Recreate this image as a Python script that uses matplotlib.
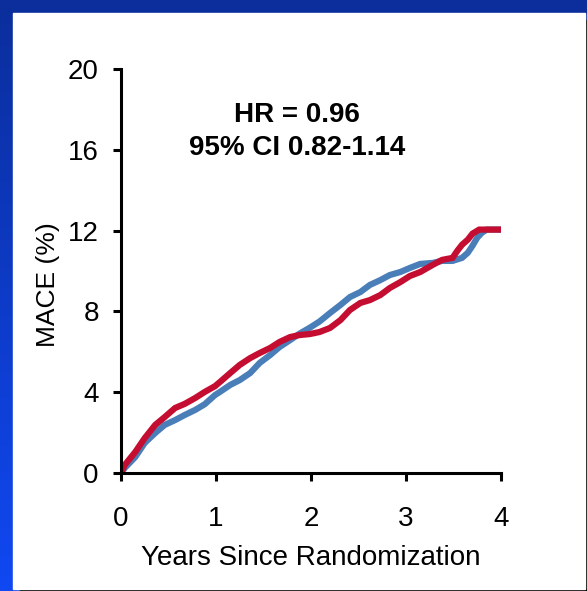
import numpy as np
import matplotlib.pyplot as plt
from matplotlib.patches import Rectangle

plt.rcParams['font.family'] = ['Liberation Sans', 'DejaVu Sans']

# Cumulative MACE (%)
blue_t = [0.00, 0.04, 0.15, 0.25, 0.36, 0.46, 0.57, 0.67, 0.78, 0.88, 0.99, 1.04, 1.15,
          1.25, 1.36, 1.46, 1.57, 1.67, 1.78, 1.88, 1.99, 2.09, 2.20, 2.31, 2.41, 2.52,
          2.62, 2.73, 2.83, 2.94, 3.04, 3.15, 3.28, 3.38, 3.49, 3.59, 3.65, 3.70, 3.75,
          3.80, 3.85, 4.00]
blue_y = [0.00, 0.25, 0.79, 1.49, 1.98, 2.38, 2.62, 2.87, 3.12, 3.40, 3.86, 4.01, 4.36,
          4.60, 4.95, 5.45, 5.84, 6.24, 6.58, 6.90, 7.20, 7.50, 7.92, 8.32, 8.71, 8.96,
          9.31, 9.55, 9.80, 9.95, 10.15, 10.35, 10.40, 10.50, 10.50, 10.65, 10.90, 11.25,
          11.65, 11.90, 12.05, 12.05]

red_t = [0.00, 0.04, 0.15, 0.25, 0.36, 0.46, 0.57, 0.67, 0.78, 0.88, 0.99, 1.04, 1.15,
         1.25, 1.36, 1.46, 1.57, 1.67, 1.78, 1.88, 1.99, 2.09, 2.20, 2.31, 2.41, 2.52,
         2.62, 2.73, 2.83, 2.94, 3.04, 3.15, 3.28, 3.38, 3.49, 3.54, 3.59, 3.65, 3.70,
         3.77, 4.00]
red_y = [0.00, 0.40, 1.04, 1.73, 2.38, 2.77, 3.22, 3.42, 3.71, 4.01, 4.30, 4.50, 4.95,
         5.35, 5.69, 5.94, 6.19, 6.49, 6.73, 6.83, 6.88, 6.98, 7.18, 7.57, 8.07, 8.42,
         8.56, 8.81, 9.16, 9.45, 9.75, 9.95, 10.30, 10.55, 10.65, 11.00, 11.30, 11.55,
         11.85, 12.05, 12.05]

xticks = [0, 1, 2, 3, 4]
yticks = [0, 4, 8, 12, 16, 20]

W, H = 587, 591
fig = plt.figure(figsize=(W / 100, H / 100), dpi=100)

# blue gradient background
bg = fig.add_axes([0, 0, 1, 1], zorder=-10)
bg.set_axis_off()
grad = np.linspace(0, 1, 256).reshape(-1, 1)
top = np.array([0x0B, 0x2E, 0x9C]) / 255
bot = np.array([0x10, 0x48, 0xF2]) / 255
img = top + (bot - top) * grad[:, :, None]
bg.imshow(img, aspect='auto', extent=[0, 1, 0, 1], origin='upper')
bg.set_xlim(0, 1)
bg.set_ylim(0, 1)
# shadow lines + white panel
bg.add_patch(Rectangle((20 / W, 0), (W - 20) / W, 3 / H, color='black'))
bg.add_patch(Rectangle((585 / W, 0), 2 / W, (H - 20) / H, color='black'))
bg.add_patch(Rectangle((13 / W, 2 / H), (585 - 13) / W, (H - 13 - 2) / H, color='white'))

ax = fig.add_axes([121 / W, 118 / H, 380 / W, 404 / H])
ax.set_facecolor('none')
ax.plot(blue_t, blue_y, color='#4A7EB8', lw=4.5, solid_joinstyle='miter')
ax.plot(red_t, red_y, color='#C40D30', lw=4.5, solid_joinstyle='miter')

ax.set_xlim(0, 4)
ax.set_ylim(0, 20)
ax.set_xticks(xticks)
ax.set_yticks(yticks)
ax.spines['top'].set_visible(False)
ax.spines['right'].set_visible(False)
for s in ['left', 'bottom']:
    ax.spines[s].set_linewidth(2.2)
ax.tick_params(axis='both', width=2.2, length=6, labelsize=20, direction='out')
ax.tick_params(axis='x', pad=18)
ax.tick_params(axis='y', pad=10)
ax.set_xlabel('Years Since Randomization', fontsize=20, labelpad=9)

fig.text(48 / W, 1 - 285 / H, 'MACE (%)', rotation=90, fontsize=19,
         ha='center', va='center')

ax.text(1.85, 17.7, 'HR = 0.96', fontsize=20, fontweight='bold',
        ha='center', va='center')
ax.text(1.85, 16.1, '95% CI 0.82-1.14', fontsize=20, fontweight='bold',
        ha='center', va='center')

fig.savefig('out.png', dpi=100)
